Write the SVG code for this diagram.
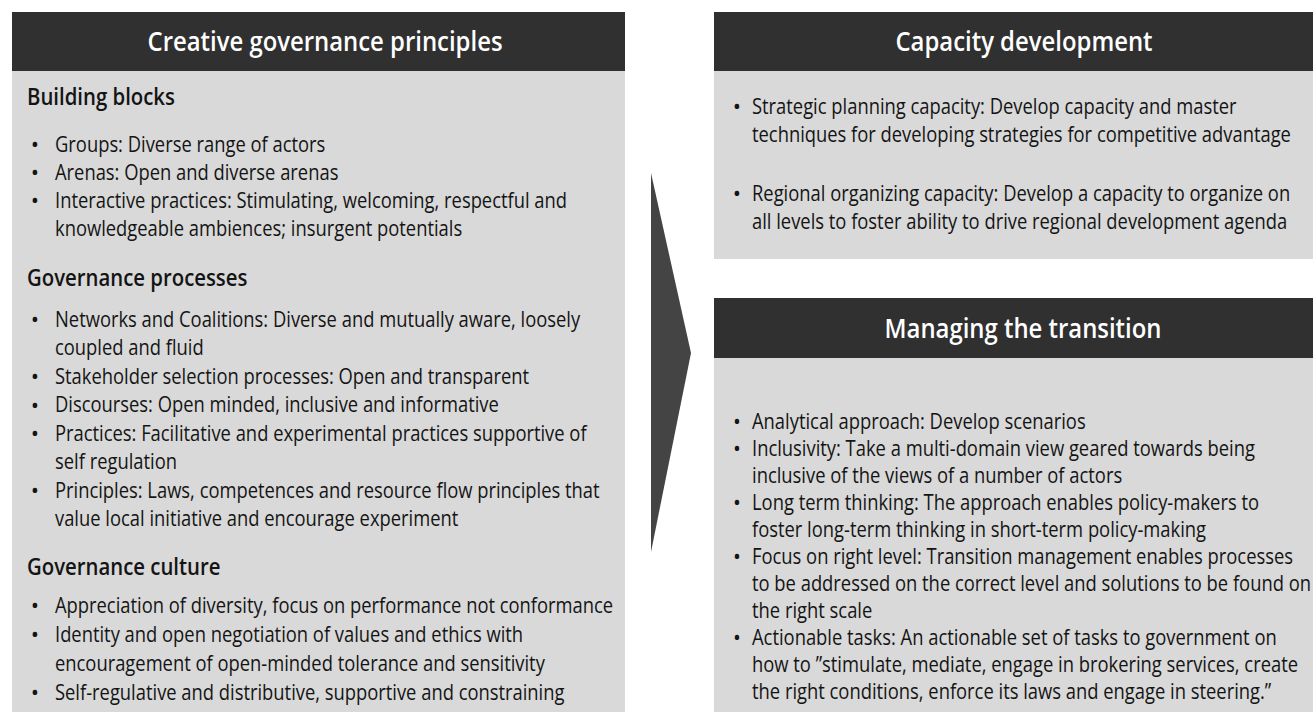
<svg xmlns="http://www.w3.org/2000/svg" width="1313" height="715" viewBox="0 0 1313 715">
<style>
.hdr{fill:#303030}
.body{fill:#d9d9d9}
.title{font-family:"Open Sans","Noto Sans",sans-serif;font-size:27px;font-weight:600;fill:#ffffff;text-anchor:middle}
.head{font-family:"Open Sans","Noto Sans",sans-serif;font-size:23px;font-weight:600;fill:#141414}
.t{font-family:"Open Sans","Noto Sans",sans-serif;font-size:22px;fill:#141414}
.b{font-family:"Open Sans","Noto Sans",sans-serif;font-size:22px;fill:#141414;text-anchor:middle}
.s{font-size:21px}
</style>
<rect width="1313" height="715" fill="#ffffff"/>

<g id="connectors">
<polygon points="651,173 691,353 651,552" fill="#444444"/>
</g>

<g id="creative-governance">
<rect class="hdr" x="12" y="12" width="613" height="59"/>
<rect class="body" x="12" y="71" width="613" height="641"/>
<g transform="translate(325 0) scale(0.885 1)"><text class="title" x="0" y="51">Creative governance principles</text></g>
<g transform="translate(27 0) scale(0.885 1)">
<text class="head" x="0" y="105">Building blocks</text>
<text class="head" x="0" y="286">Governance processes</text>
<text class="head" x="0" y="575">Governance culture</text>
</g>
<g>
<text class="b" x="35" y="152">•</text>
<text class="b" x="35" y="180">•</text>
<text class="b" x="35" y="208">•</text>
<text class="b" x="35" y="327">•</text>
<text class="b" x="35" y="384">•</text>
<text class="b" x="35" y="412.5">•</text>
<text class="b" x="35" y="441">•</text>
<text class="b" x="35" y="498">•</text>
<text class="b" x="35" y="613">•</text>
<text class="b" x="35" y="642">•</text>
<text class="b" x="35" y="700">•</text>
</g>
<g transform="translate(55 0) scale(0.835 1)">
<text class="t" x="0" y="152">Groups: Diverse range of actors</text>
<text class="t" x="0" y="180">Arenas: Open and diverse arenas</text>
<text class="t" x="0" y="208">Interactive practices: Stimulating, welcoming, respectful and</text>
<text class="t" x="0" y="236">knowledgeable ambiences; insurgent potentials</text>
<text class="t" x="0" y="327">Networks and Coalitions: Diverse and mutually aware, loosely</text>
<text class="t" x="0" y="355.5">coupled and fluid</text>
<text class="t" x="0" y="384">Stakeholder selection processes: Open and transparent</text>
<text class="t" x="0" y="412.5">Discourses: Open minded, inclusive and informative</text>
<text class="t" x="0" y="441">Practices: Facilitative and experimental practices supportive of</text>
<text class="t" x="0" y="469.5">self regulation</text>
<text class="t" x="0" y="498">Principles: Laws, competences and resource flow principles that</text>
<text class="t" x="0" y="526.5">value local initiative and encourage experiment</text>
<text class="t" x="0" y="613">Appreciation of diversity, focus on performance not conformance</text>
<text class="t" x="0" y="642">Identity and open negotiation of values and ethics with</text>
<text class="t" x="0" y="671">encouragement of open-minded tolerance and sensitivity</text>
<text class="t" x="0" y="700">Self-regulative and distributive, supportive and constraining</text>
</g>
</g>

<g id="capacity-development">
<rect class="hdr" x="714" y="12" width="599" height="59"/>
<rect class="body" x="714" y="71" width="599" height="188"/>
<g transform="translate(1024 0) scale(0.885 1)"><text class="title" x="0" y="51">Capacity development</text></g>
<text class="b" x="737" y="114">•</text>
<text class="b" x="737" y="201">•</text>
<g transform="translate(752 0) scale(0.835 1)">
<text class="t" x="0" y="114">Strategic planning capacity: Develop capacity and master</text>
<text class="t" x="0" y="142">techniques for developing strategies for competitive advantage</text>
<text class="t" x="0" y="201">Regional organizing capacity: Develop a capacity to organize on</text>
<text class="t" x="0" y="229">all levels to foster ability to drive regional development agenda</text>
</g>
</g>

<g id="managing-transition">
<rect class="hdr" x="714" y="298" width="599" height="60"/>
<rect class="body" x="714" y="358" width="599" height="354"/>
<g transform="translate(1023 0) scale(0.885 1)"><text class="title" x="0" y="338">Managing the transition</text></g>
<text class="b s" x="737" y="429">•</text>
<text class="b s" x="737" y="456">•</text>
<text class="b s" x="737" y="510">•</text>
<text class="b s" x="737" y="564">•</text>
<text class="b s" x="737" y="645">•</text>
<g transform="translate(752 0) scale(0.875 1)">
<text class="t s" x="0" y="429">Analytical approach: Develop scenarios</text>
<text class="t s" x="0" y="456">Inclusivity: Take a multi-domain view geared towards being</text>
<text class="t s" x="0" y="483">inclusive of the views of a number of actors</text>
<text class="t s" x="0" y="510">Long term thinking: The approach enables policy-makers to</text>
<text class="t s" x="0" y="537">foster long-term thinking in short-term policy-making</text>
<text class="t s" x="0" y="564">Focus on right level: Transition management enables processes</text>
<text class="t s" x="0" y="591">to be addressed on the correct level and solutions to be found on</text>
<text class="t s" x="0" y="618">the right scale</text>
<text class="t s" x="0" y="645">Actionable tasks: An actionable set of tasks to government on</text>
<text class="t s" x="0" y="672">how to ”stimulate, mediate, engage in brokering services, create</text>
<text class="t s" x="0" y="699">the right conditions, enforce its laws and engage in steering.”</text>
</g>
</g>
</svg>
